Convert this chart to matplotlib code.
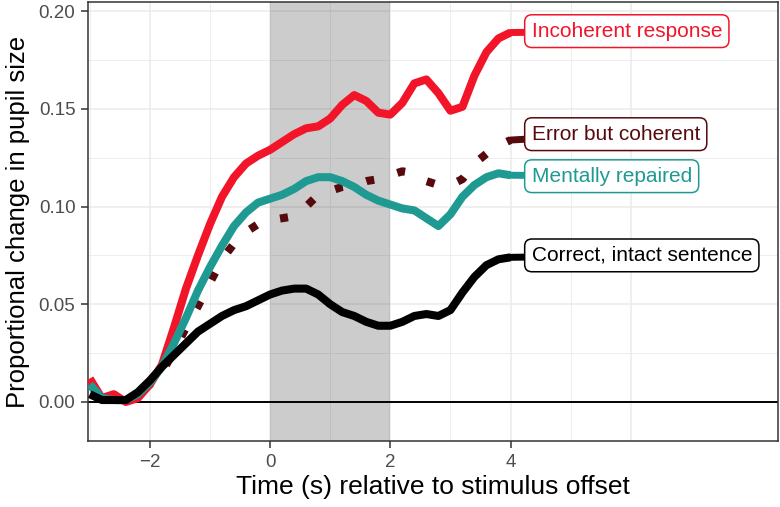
import matplotlib
matplotlib.use("Agg")
import matplotlib.pyplot as plt

plt.rcParams['font.family'] = ['Liberation Sans', 'DejaVu Sans']

# tiempo (s) relativo al final del estímulo
time = [-3.0, -2.8, -2.6, -2.4, -2.2, -2.0, -1.8, -1.6, -1.4, -1.2, -1.0, -0.8,
        -0.6, -0.4, -0.2, 0.0, 0.2, 0.4, 0.6, 0.8, 1.0, 1.2, 1.4, 1.6,
        1.8, 2.0, 2.2, 2.4, 2.6, 2.8, 3.0, 3.2, 3.4, 3.6, 3.8, 4.0]

incoherent = [0.012, 0.002, 0.004, 0.000, 0.002, 0.009, 0.019, 0.038, 0.058, 0.075, 0.091, 0.105,
              0.115, 0.122, 0.126, 0.129, 0.133, 0.137, 0.140, 0.141, 0.145, 0.152, 0.157, 0.154,
              0.148, 0.147, 0.153, 0.163, 0.165, 0.158, 0.149, 0.151, 0.167, 0.179, 0.186, 0.189]

error_coherent = [0.009, 0.002, 0.001, 0.001, 0.004, 0.009, 0.015, 0.026, 0.038, 0.049, 0.061, 0.073,
                  0.081, 0.087, 0.091, 0.093, 0.094, 0.095, 0.100, 0.106, 0.108, 0.110, 0.111, 0.113,
                  0.114, 0.116, 0.118, 0.117, 0.113, 0.111, 0.111, 0.114, 0.122, 0.127, 0.131, 0.134]

repaired = [0.009, 0.002, 0.001, 0.001, 0.004, 0.010, 0.018, 0.030, 0.043, 0.057, 0.069, 0.080,
            0.090, 0.097, 0.102, 0.104, 0.106, 0.109, 0.113, 0.115, 0.115, 0.113, 0.110, 0.106,
            0.103, 0.101, 0.099, 0.098, 0.094, 0.090, 0.096, 0.105, 0.111, 0.115, 0.117, 0.116]

correct = [0.004, 0.001, 0.001, 0.001, 0.005, 0.011, 0.018, 0.024, 0.030, 0.036, 0.040, 0.044,
           0.047, 0.049, 0.052, 0.055, 0.057, 0.058, 0.058, 0.055, 0.050, 0.046, 0.044, 0.041,
           0.039, 0.039, 0.041, 0.044, 0.045, 0.044, 0.047, 0.056, 0.064, 0.070, 0.073, 0.074]

labels = ['Incoherent response', 'Error but coherent', 'Mentally repaired', 'Correct, intact sentence']
label_y = [0.1897, 0.137, 0.1155, 0.075]
colors = ['#F2152A', '#560A0E', '#1F9A93', '#000000']

fig = plt.figure(figsize=(7.8, 5.07), dpi=100)
ax = fig.add_axes([0.1128, 0.130, 0.8846, 0.866])

# rejilla estilo theme_bw
for x in range(-3, 7):
    ax.axvline(x, color='#EBEBEB', lw=1.1 if x % 2 == 0 else 0.6, zorder=0)
for k in range(-1, 9):
    y = k * 0.025
    ax.axhline(y, color='#EBEBEB', lw=1.1 if k % 2 == 0 else 0.6, zorder=0)

# ventana sombreada 0-2 s
ax.axvspan(0, 2, color='black', alpha=0.2, lw=0, zorder=1)
ax.axhline(0, color='black', lw=1.4, zorder=2)

series = [incoherent, error_coherent, repaired, correct]
for vals, col, lab, ly in zip(series, colors, labels, label_y):
    if lab == 'Error but coherent':
        ax.plot(time, vals, color=col, lw=5.8, dashes=(1, 3), dash_capstyle='butt', zorder=3)
    else:
        ax.plot(time, vals, color=col, lw=5.8, solid_capstyle='butt', solid_joinstyle='round', zorder=4)
    ax.annotate(lab, xy=(time[-1], vals[-1]), xytext=(4.35, ly),
                ha='left', va='center', fontsize=15, color=col,
                bbox=dict(boxstyle='round,pad=0.33,rounding_size=0.35', fc='white', ec=col, lw=1.1),
                arrowprops=dict(arrowstyle='-', color=col, lw=5.0, shrinkA=0, shrinkB=0),
                zorder=5)

ax.set_xlim(-3.03, 8.45)
ax.set_ylim(-0.0200, 0.2046)
ax.set_xticks([-2, 0, 2, 4])
ax.set_xticklabels(['\u22122', '0', '2', '4'])
ax.set_yticks([0.00, 0.05, 0.10, 0.15, 0.20])
ax.set_yticklabels(['0.00', '0.05', '0.10', '0.15', '0.20'])
ax.tick_params(labelsize=13.5, labelcolor='#4D4D4D', color='#333333', length=5, width=1.1, pad=4)

for s in ax.spines.values():
    s.set_color('#333333')
    s.set_linewidth(1.1)

ax.set_xlabel('Time (s) relative to stimulus offset', fontsize=19, labelpad=3)
ax.set_ylabel('Proportional change in pupil size', fontsize=18.5, labelpad=6)

fig.savefig('out.png', dpi=100)
